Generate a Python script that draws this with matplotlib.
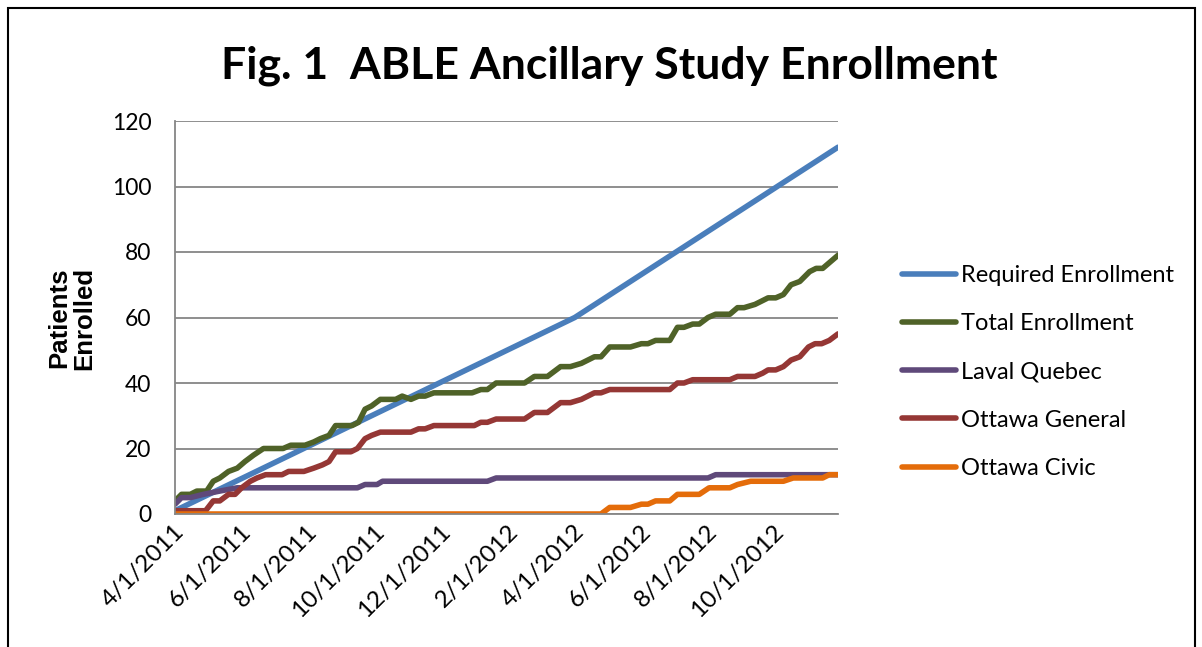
import pandas as pd
import matplotlib
matplotlib.use("Agg")
import matplotlib.pyplot as plt
import matplotlib.dates as mdates
import matplotlib.transforms as mtransforms
from matplotlib.patches import Rectangle

plt.rcParams['font.family'] = ['Lato', 'DejaVu Sans']

# series (date, patients enrolled)
required_dates = ["2011-04-01", "2012-04-01", "2012-11-28"]
required_vals = [1, 60, 112]

total_dates = ["2011-04-01", "2011-04-07", "2011-04-15", "2011-04-21", "2011-04-30", "2011-05-06",
               "2011-05-12", "2011-05-20", "2011-05-28", "2011-06-04", "2011-06-12", "2011-06-21",
               "2011-07-09", "2011-07-16", "2011-07-29", "2011-08-06", "2011-08-12", "2011-08-20",
               "2011-08-26", "2011-09-10", "2011-09-16", "2011-09-22", "2011-09-28", "2011-10-06",
               "2011-10-20", "2011-10-26", "2011-11-03", "2011-11-10", "2011-11-16", "2011-11-24",
               "2011-12-29", "2012-01-06", "2012-01-12", "2012-01-20", "2012-02-15", "2012-02-24",
               "2012-03-07", "2012-03-19", "2012-03-28", "2012-04-07", "2012-04-19", "2012-04-25",
               "2012-05-03", "2012-05-22", "2012-06-01", "2012-06-07", "2012-06-14", "2012-06-27",
               "2012-07-04", "2012-07-10", "2012-07-18", "2012-07-24", "2012-08-01", "2012-08-08",
               "2012-08-21", "2012-08-28", "2012-09-03", "2012-09-13", "2012-09-25", "2012-10-02",
               "2012-10-09", "2012-10-16", "2012-10-24", "2012-11-02", "2012-11-08", "2012-11-14",
               "2012-11-28"]
total_vals = [4, 6, 6, 7, 7, 10, 11, 13, 14, 16, 18, 20, 20, 21, 21, 22, 23, 24, 27, 27, 28, 32, 33, 35,
              35, 36, 35, 36, 36, 37, 37, 38, 38, 40, 40, 42, 42, 45, 45, 46, 48, 48, 51, 51, 52, 52,
              53, 53, 57, 57, 58, 58, 60, 61, 61, 63, 63, 64, 66, 66, 67, 70, 71, 74, 75, 75, 79]

laval_dates = ["2011-04-01", "2011-04-07", "2011-04-15", "2011-04-27", "2011-05-12", "2011-05-28",
               "2011-09-15", "2011-09-22", "2011-10-03", "2011-10-08", "2012-01-12", "2012-01-20",
               "2012-08-01", "2012-08-08", "2012-11-28"]
laval_vals = [3, 5, 5, 6, 7, 8, 8, 9, 9, 10, 10, 11, 11, 12, 12]

general_dates = ["2011-04-01", "2011-04-29", "2011-05-06", "2011-05-12", "2011-05-20", "2011-05-26",
                 "2011-06-01", "2011-06-09", "2011-06-15", "2011-06-23", "2011-07-08", "2011-07-14",
                 "2011-07-28", "2011-08-06", "2011-08-14", "2011-08-20", "2011-08-26", "2011-09-09",
                 "2011-09-15", "2011-09-22", "2011-09-28", "2011-10-06", "2011-11-03", "2011-11-10",
                 "2011-11-16", "2011-11-24", "2011-12-31", "2012-01-06", "2012-01-12", "2012-01-20",
                 "2012-02-15", "2012-02-24", "2012-03-07", "2012-03-19", "2012-03-28", "2012-04-07",
                 "2012-04-19", "2012-04-25", "2012-05-03", "2012-06-27", "2012-07-04", "2012-07-10",
                 "2012-07-18", "2012-08-21", "2012-08-28", "2012-09-13", "2012-09-20", "2012-09-25",
                 "2012-10-02", "2012-10-09", "2012-10-16", "2012-10-24", "2012-11-01", "2012-11-07",
                 "2012-11-13", "2012-11-20", "2012-11-28"]
general_vals = [1, 1, 4, 4, 6, 6, 8, 10, 11, 12, 12, 13, 13, 14, 15, 16, 19, 19, 20, 23, 24, 25, 25, 26,
                26, 27, 27, 28, 28, 29, 29, 31, 31, 34, 34, 35, 37, 37, 38, 38, 40, 40, 41, 41, 42, 42,
                43, 44, 44, 45, 47, 48, 51, 52, 52, 53, 55]

civic_dates = ["2011-04-01", "2012-04-25", "2012-05-03", "2012-05-22", "2012-06-01", "2012-06-07",
               "2012-06-14", "2012-06-27", "2012-07-04", "2012-07-24", "2012-08-02", "2012-08-21",
               "2012-08-28", "2012-09-09", "2012-10-09", "2012-10-18", "2012-11-14", "2012-11-20",
               "2012-11-28"]
civic_vals = [0, 0, 2, 2, 3, 3, 4, 4, 6, 6, 8, 8, 9, 10, 10, 11, 11, 12, 12]

series = [
    ("Required Enrollment", required_dates, required_vals, "#4A7EBB"),
    ("Total Enrollment", total_dates, total_vals, "#4F6228"),
    ("Laval Quebec", laval_dates, laval_vals, "#5F497A"),
    ("Ottawa General", general_dates, general_vals, "#953735"),
    ("Ottawa Civic", civic_dates, civic_vals, "#E46C0A"),
]

fig = plt.figure(figsize=(12.02, 6.47), dpi=100)
ax = fig.add_axes([175 / 1202, 1 - 514 / 647, (838 - 175) / 1202, (514 - 121) / 647])

for name, d, v, c in series:
    ax.plot(pd.to_datetime(d), v, color=c, lw=4.0, label=name, solid_capstyle='round',
            solid_joinstyle='round')

ax.set_xlim(pd.Timestamp("2011-04-01"), pd.Timestamp("2012-11-28"))
ax.set_ylim(0, 120)
ax.set_yticks(range(0, 121, 20))
ax.yaxis.grid(True, color="#868686", lw=1.3)
ax.set_axisbelow(True)
for s in ["top", "right"]:
    ax.spines[s].set_visible(False)
for s in ["left", "bottom"]:
    ax.spines[s].set_color("#868686")
    ax.spines[s].set_linewidth(1.3)

ax.xaxis.set_major_locator(mdates.MonthLocator(bymonth=[2, 4, 6, 8, 10, 12]))
ax.xaxis.set_major_formatter(plt.FuncFormatter(
    lambda x, p: "{d.month}/{d.day}/{d.year}".format(d=mdates.num2date(x))))
ax.tick_params(axis="both", length=0)
ax.tick_params(axis="y", pad=17, labelsize=16.5)
ax.tick_params(axis="x", pad=10, labelsize=17.5)
shift = mtransforms.ScaledTranslation(6 / 100, 0, fig.dpi_scale_trans)
for lab in ax.get_xticklabels():
    lab.set_rotation(45)
    lab.set_ha("right")
    lab.set_va("center")
    lab.set_rotation_mode("anchor")
    lab.set_transform(lab.get_transform() + shift)

fig.text(0.507, 1 - 78 / 647, "Fig. 1  ABLE Ancillary Study Enrollment", ha="center",
         va="baseline", fontsize=32, fontweight="bold")
fig.text(72 / 1202, 1 - 318 / 647, "Patients\nEnrolled", rotation=90, ha="center", va="center",
         fontsize=18.5, fontweight="bold", family="Liberation Sans", linespacing=1.05)

ax.legend(loc="center left", bbox_to_anchor=(890 / 1202, 1 - 372 / 647),
          bbox_transform=fig.transFigure, frameon=False, fontsize=17,
          handlelength=2.3, handletextpad=0.2, labelspacing=1.15, borderpad=0)

fig.patches.append(Rectangle((8 / 1202, -0.1), (1195 - 8) / 1202, 1.1 - 8 / 647, fill=False,
                             edgecolor="black", lw=1.5, transform=fig.transFigure, figure=fig))

fig.savefig("out.png", dpi=100)
